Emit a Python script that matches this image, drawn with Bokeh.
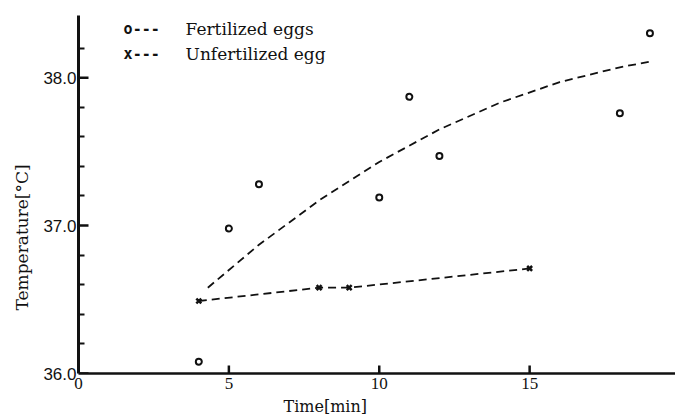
from bokeh.plotting import figure
from bokeh.models import Range1d, FixedTicker, Label, NumeralTickFormatter, Title
from bokeh.embed import file_html
from bokeh.resources import INLINE

# ---- data ----
fert_time = [4, 5, 6, 10, 11, 12, 18, 19]
fert_temp = [36.08, 36.98, 37.28, 37.19, 37.87, 37.47, 37.76, 38.30]

unfert_time = [4, 8, 9, 15]
unfert_temp = [36.49, 36.58, 36.58, 36.71]

trend_time = [4.3, 6, 8, 10, 12, 14, 16, 18, 19.05]
trend_temp = [36.58, 36.87, 37.17, 37.43, 37.65, 37.83, 37.97, 38.07, 38.11]

x_ticks = [0, 5, 10, 15]
y_ticks = [36, 37, 38]
y_minor_ticks = [36.2, 36.4, 36.6, 36.8, 37.2, 37.4, 37.6, 37.8, 38.2]

legend_labels = ["Fertilized eggs", "Unfertilized egg"]
legend_keys = ["o---", "x---"]
x_title = "Time[min]"
y_title = "Temperature[°C]"

SERIF = "DejaVu Serif"
INK = "#111111"

X_MIN, X_MAX = 0, 19.85
Y_MIN, Y_MAX = 36.0, 38.42
W, H = 675, 419
BL, BR, BT, BB = 78, 0, 15, 46

p = figure(width=W, height=H,
           x_range=Range1d(X_MIN, X_MAX), y_range=Range1d(Y_MIN, Y_MAX),
           output_backend="svg", toolbar_location=None,
           min_border_left=BL, min_border_right=BR,
           min_border_top=BT, min_border_bottom=BB)
p.grid.visible = False
p.outline_line_color = None
p.background_fill_color = "white"
p.border_fill_color = "white"

# pixel -> data scale (for inward tick marks)
px_per_x = (W - BL - BR) / (X_MAX - X_MIN)
px_per_y = (H - BT - BB) / (Y_MAX - Y_MIN)

# axes
xa = p.xaxis[0]
xa.ticker = FixedTicker(ticks=x_ticks, minor_ticks=[])
xa.axis_line_width = 2.5
xa.axis_line_color = INK
xa.major_tick_in = 0
xa.major_tick_out = 0
xa.major_tick_line_color = None
xa.minor_tick_line_color = None
xa.major_label_standoff = 4
xa.major_label_text_font = "Liberation Serif"
xa.major_label_text_font_size = "17px"
xa.major_label_text_color = INK

ya = p.yaxis[0]
ya.ticker = FixedTicker(ticks=y_ticks, minor_ticks=y_minor_ticks)
ya.formatter = NumeralTickFormatter(format="0.0")
ya.axis_line_width = 3
ya.axis_line_color = INK
ya.major_tick_in = 0
ya.major_tick_out = 0
ya.major_tick_line_color = None
ya.minor_tick_in = 6
ya.minor_tick_out = 0
ya.minor_tick_line_width = 2
ya.minor_tick_line_color = INK
ya.major_label_standoff = 2
ya.major_label_text_font = "Liberation Sans"
ya.major_label_text_font_size = "17px"
ya.major_label_text_color = INK

# inward major tick marks, placed at the tick values
xt = [t for t in x_ticks if t > X_MIN]
p.segment(x0=xt, y0=[Y_MIN] * len(xt), x1=xt,
          y1=[Y_MIN + 8 / px_per_y] * len(xt),
          line_color=INK, line_width=2.5)
p.segment(x0=[X_MIN] * len(y_ticks), y0=y_ticks,
          x1=[X_MIN + 10 / px_per_x] * len(y_ticks), y1=y_ticks,
          line_color=INK, line_width=2.5)

# data
p.line(trend_time, trend_temp, line_color=INK, line_width=1.8, line_dash="8 5")
p.line(unfert_time, unfert_temp, line_color=INK, line_width=1.8, line_dash="8 5")
p.scatter(fert_time, fert_temp, marker="circle", size=6, line_width=2,
          line_color=INK, fill_color="white")
p.scatter(unfert_time, unfert_temp, marker="x", size=7, line_width=2.5,
          line_color=INK)

# axis titles
p.add_layout(Title(text=x_title, align="left", offset=205, standoff=6,
                   text_font=SERIF, text_font_size="16px",
                   text_font_style="normal", text_color=INK), "below")
p.add_layout(Title(text=y_title, align="left", offset=63, standoff=18,
                   text_font=SERIF, text_font_size="17px",
                   text_font_style="normal", text_color=INK), "left")

# legend
rows_y = [38.326, 38.157]
for key, lab, yy in zip(legend_keys, legend_labels, rows_y):
    p.add_layout(Label(x=1.50, y=yy, text=key, text_font="DejaVu Sans Mono",
                       text_font_style="bold", text_font_size="15px",
                       text_align="left", text_baseline="middle", text_color=INK))
    p.add_layout(Label(x=3.56, y=yy, text=lab, text_font=SERIF,
                       text_font_size="17px", text_align="left",
                       text_baseline="middle", text_color=INK))

open("out.html", "w").write(file_html(p, INLINE))
